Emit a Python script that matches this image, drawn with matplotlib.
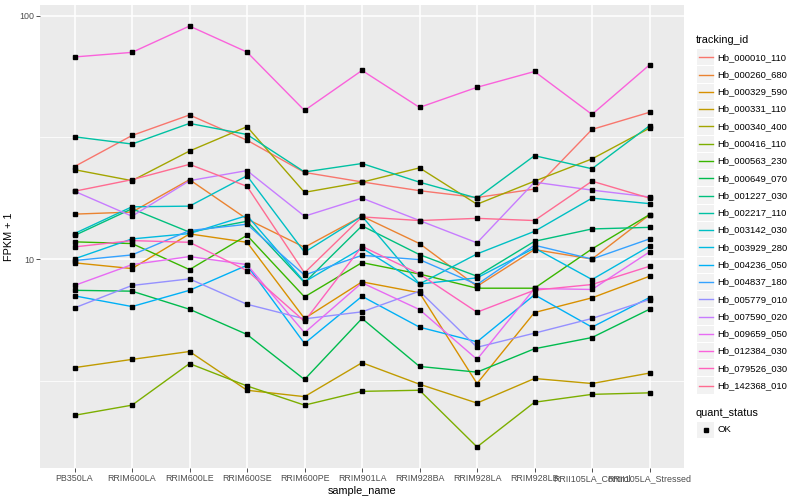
import numpy as np
import matplotlib
matplotlib.use('Agg')
import matplotlib.pyplot as plt
from matplotlib.patches import Rectangle
from matplotlib.lines import Line2D
from matplotlib.ticker import FixedLocator, NullFormatter

plt.rcParams['font.family'] = ['Liberation Sans', 'DejaVu Sans']

# samples on the x axis
samples = ['PB350LA', 'RRIM600LA', 'RRIM600LE', 'RRIM600SE', 'RRIM600PE', 'RRIM901LA',
           'RRIM928BA', 'RRIM928LA', 'RRIM928LB', 'RRII105LA_Control', 'RRII105LA_Stressed']

tracking_ids = ['Hb_000010_110', 'Hb_000260_680', 'Hb_000329_590', 'Hb_000331_110',
                'Hb_000340_400', 'Hb_000416_110', 'Hb_000563_230', 'Hb_000649_070',
                'Hb_001227_030', 'Hb_002217_110', 'Hb_003142_030', 'Hb_003929_280',
                'Hb_004236_050', 'Hb_004837_180', 'Hb_005779_010', 'Hb_007590_020',
                'Hb_009659_050', 'Hb_012384_030', 'Hb_079526_030', 'Hb_142368_010']

# FPKM + 1 per gene, one value per sample
hb_000010_110 = [24.0, 32.2, 39.1, 30.8, 22.7, 20.75, 19.1, 17.9, 19.4, 34.1, 40.1]
hb_000260_680 = [15.3, 15.6, 21.2, 14.6, 11.18, 15.0, 11.58, 7.73, 10.94, 10.0, 15.2]
hb_000329_590 = [9.65, 9.14, 12.69, 11.72, 5.70, 8.06, 7.27, 3.08, 6.03, 6.93, 8.50]
hb_000331_110 = [3.58, 3.87, 4.17, 2.89, 2.72, 3.75, 3.06, 2.56, 3.23, 3.08, 3.40]
hb_000340_400 = [23.3, 21.0, 27.8, 35.0, 18.8, 20.7, 23.7, 16.8, 20.9, 25.8, 34.5]
hb_000416_110 = [2.28, 2.51, 3.72, 3.01, 2.51, 2.86, 2.89, 1.69, 2.58, 2.78, 2.82]
hb_000563_230 = [11.77, 11.58, 9.05, 12.52, 6.99, 9.67, 8.68, 7.59, 7.59, 11.01, 15.23]
hb_000649_070 = [7.44, 7.38, 6.22, 4.90, 3.20, 5.70, 3.62, 3.43, 4.28, 4.76, 6.22]
hb_001227_030 = [12.5, 16.1, 12.9, 14.3, 8.0, 13.7, 10.43, 8.5, 11.83, 13.3, 13.5]
hb_002217_110 = [31.8, 29.7, 36.1, 32.5, 22.8, 24.7, 20.7, 17.8, 26.6, 23.5, 35.3]
hb_003142_030 = [12.73, 16.4, 16.5, 22.0, 10.67, 15.0, 7.9, 10.5, 13.0, 17.8, 16.9]
hb_003929_280 = [10.02, 12.1, 12.73, 15.1, 8.06, 11.1, 7.9, 8.37, 11.1, 8.24, 11.29]
hb_004236_050 = [7.06, 6.38, 7.44, 9.43, 4.50, 7.03, 5.25, 4.57, 7.13, 5.25, 6.95]
hb_004837_180 = [9.86, 10.4, 13.1, 13.9, 8.6, 10.36, 9.95, 7.86, 11.4, 10.0, 12.1]
hb_005779_010 = [6.30, 7.79, 8.29, 6.52, 5.68, 6.07, 7.38, 4.34, 4.96, 5.70, 6.82]
hb_007590_020 = [19.0, 15.0, 21.0, 23.1, 15.0, 17.8, 14.4, 11.66, 20.7, 19.2, 18.0]
hb_009659_050 = [7.79, 9.49, 10.24, 9.49, 4.98, 7.99, 6.2, 3.87, 7.57, 7.5, 10.7]
hb_012384_030 = [67.7, 70.7, 90.7, 70.9, 40.8, 59.6, 42.0, 50.8, 59.0, 39.3, 62.8]
hb_079526_030 = [11.22, 11.91, 11.72, 8.97, 5.55, 11.28, 8.68, 6.05, 7.45, 7.86, 9.34]
hb_142368_010 = [19.0, 21.2, 24.5, 19.9, 8.78, 14.9, 14.4, 14.7, 14.4, 20.9, 17.8]

series = [hb_000010_110, hb_000260_680, hb_000329_590, hb_000331_110, hb_000340_400,
          hb_000416_110, hb_000563_230, hb_000649_070, hb_001227_030, hb_002217_110,
          hb_003142_030, hb_003929_280, hb_004236_050, hb_004837_180, hb_005779_010,
          hb_007590_020, hb_009659_050, hb_012384_030, hb_079526_030, hb_142368_010]

# ggplot2 default hue palette, 20 levels
colors = ['#F8766D', '#EA8331', '#D89000', '#C09B00', '#A3A500', '#7CAE00', '#39B600',
          '#00BB4E', '#00BF7D', '#00C1A3', '#00BFC4', '#00BAE0', '#00B0F6', '#35A2FF',
          '#9590FF', '#C77CFF', '#E76BF3', '#FA62DB', '#FF62BC', '#FF6C91']

W, H = 800, 500
fig = plt.figure(figsize=(W / 100, H / 100), dpi=100)
ax = fig.add_axes([40 / W, 1 - 468 / H, 644 / W, 463 / H])
ax.set_facecolor('#EBEBEB')

x = np.arange(len(samples))
for vals, col in zip(series, colors):
    ax.plot(x, vals, color=col, lw=1.0, zorder=3, solid_capstyle='butt')
for vals in series:
    ax.plot(x, vals, linestyle='none', marker='s', ms=2.4, color='black', zorder=4)

ax.set_yscale('log')
all_vals = np.concatenate([np.log10(v) for v in series])
lo, hi = all_vals.min(), all_vals.max()
pad = 0.05 * (hi - lo)
ax.set_ylim(10 ** (lo - pad), 10 ** (hi + pad))
ax.set_xlim(-0.6, len(samples) - 0.4)

ax.set_xticks(x)
ax.set_xticklabels(samples)
ax.yaxis.set_major_locator(FixedLocator([10, 100]))
ax.yaxis.set_minor_locator(FixedLocator([10 ** 0.5, 10 ** 1.5]))
ax.yaxis.set_minor_formatter(NullFormatter())
ax.set_yticklabels(['10', '100'])

ax.grid(which='major', color='white', lw=1.1)
ax.grid(which='minor', axis='y', color='white', lw=0.55)
ax.set_axisbelow(True)
for s in ax.spines.values():
    s.set_visible(False)
ax.tick_params(which='major', length=2.7, width=0.6, color='#333333',
               labelsize=6.4, labelcolor='#4D4D4D', pad=1.5)
ax.tick_params(which='minor', length=0)
ax.set_xlabel('sample_name', fontsize=7.8, labelpad=2)
ax.set_ylabel('FPKM + 1', fontsize=7.8, labelpad=4)


# legend drawn by hand, ggplot style
def fx(px):
    return px / W


def fy(py):
    return 1 - py / H


fig.text(fx(696), fy(40), 'tracking_id', fontsize=7.8, va='center', ha='left')
row_h = 17.28
for i, (tid, col) in enumerate(zip(tracking_ids, colors)):
    yc = 57.3 + i * row_h
    fig.add_artist(Rectangle((fx(697), fy(yc + row_h / 2 - 0.5)), 17 / W, (row_h - 1) / H,
                             transform=fig.transFigure, facecolor='#F2F2F2', edgecolor='none'))
    fig.add_artist(Line2D([fx(698.5), fx(712.5)], [fy(yc), fy(yc)], transform=fig.transFigure,
                          color=col, lw=1.0))
    fig.text(fx(717.5), fy(yc), tid, fontsize=6.8, va='center', ha='left')

fig.text(fx(696), fy(412.7), 'quant_status', fontsize=7.8, va='center', ha='left')
fig.add_artist(Rectangle((fx(697), fy(430 + row_h / 2 - 0.5)), 17 / W, (row_h - 1) / H,
                         transform=fig.transFigure, facecolor='#F2F2F2', edgecolor='none'))
fig.add_artist(Line2D([fx(705.5)], [fy(430)], transform=fig.transFigure, linestyle='none',
                      marker='s', ms=2.4, color='black'))
fig.text(fx(717.5), fy(430), 'OK', fontsize=6.8, va='center', ha='left')

fig.savefig('out.png', dpi=100)
